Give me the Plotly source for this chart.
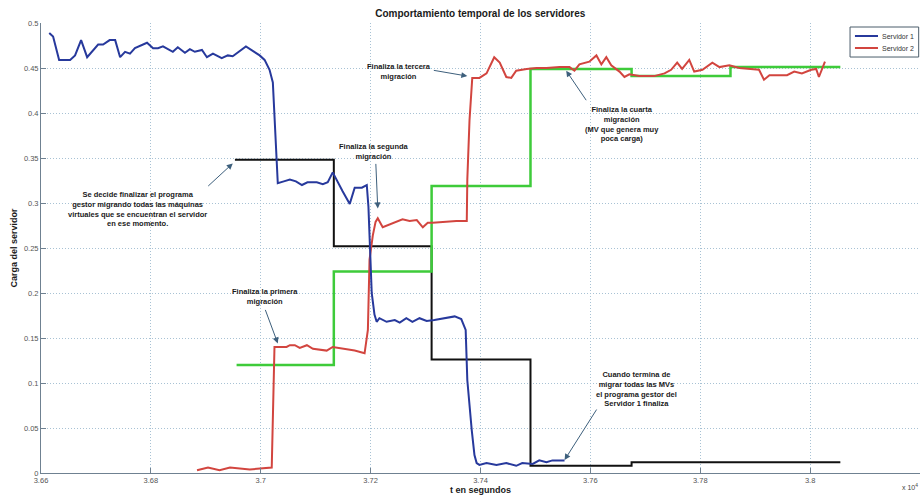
import plotly.graph_objects as go

# Servidor 1 load over time
t_serv1 = [3.6615, 3.6622, 3.6633, 3.6653, 3.6662, 3.6673, 3.6684, 3.6704, 3.6713, 3.6725,
           3.6735, 3.6744, 3.6753, 3.6762, 3.6771, 3.6793, 3.6804, 3.6813, 3.6822, 3.6840,
           3.6849, 3.6862, 3.6871, 3.6880, 3.6893, 3.6902, 3.6913, 3.6929, 3.6940, 3.6949,
           3.6973, 3.6989, 3.6998, 3.7007, 3.7016, 3.7022, 3.7029, 3.7031, 3.7042, 3.7053,
           3.7064, 3.7075, 3.7085, 3.7102, 3.7113, 3.7122, 3.7131, 3.7140, 3.7149, 3.7162,
           3.7171, 3.7184, 3.7193, 3.7196, 3.7198, 3.7200, 3.7202, 3.7207, 3.7211, 3.7216,
           3.7229, 3.7244, 3.7253, 3.7265, 3.7276, 3.7289, 3.7302, 3.7316, 3.7335, 3.7353,
           3.7365, 3.7373, 3.7376, 3.7380, 3.7384, 3.7389, 3.7393, 3.7398, 3.7411, 3.7429,
           3.7447, 3.7465, 3.7476, 3.7495, 3.7507, 3.7520, 3.7531, 3.7553]
carga_serv1 = [0.489, 0.485, 0.459, 0.459, 0.464, 0.481, 0.462, 0.476, 0.476, 0.481,
               0.481, 0.462, 0.468, 0.466, 0.472, 0.478, 0.472, 0.472, 0.474, 0.468,
               0.473, 0.467, 0.471, 0.468, 0.470, 0.462, 0.466, 0.461, 0.464, 0.463,
               0.474, 0.467, 0.464, 0.459, 0.448, 0.434, 0.348, 0.322, 0.324, 0.326,
               0.324, 0.320, 0.323, 0.323, 0.321, 0.323, 0.334, 0.323, 0.313, 0.299,
               0.317, 0.317, 0.320, 0.296, 0.259, 0.226, 0.200, 0.176, 0.168, 0.172,
               0.168, 0.170, 0.167, 0.172, 0.168, 0.172, 0.169, 0.170, 0.172, 0.174,
               0.171, 0.159, 0.103, 0.070, 0.048, 0.020, 0.011, 0.009, 0.011, 0.009,
               0.011, 0.008, 0.011, 0.010, 0.014, 0.012, 0.014, 0.014]

# Servidor 2 load over time
t_serv2 = [3.6884, 3.6904, 3.6925, 3.6944, 3.6980, 3.7020, 3.7025, 3.7035, 3.7047, 3.7053,
           3.7062, 3.7071, 3.7084, 3.7095, 3.7107, 3.7120, 3.7131, 3.7153, 3.7171, 3.7189,
           3.7195, 3.7198, 3.7204, 3.7209, 3.7213, 3.7222, 3.7235, 3.7247, 3.7258, 3.7271,
           3.7284, 3.7295, 3.7304, 3.7313, 3.7335, 3.7356, 3.7375, 3.7376, 3.7380, 3.7385,
           3.7398, 3.7411, 3.7425, 3.7435, 3.7447, 3.7456, 3.7465, 3.7484, 3.7502, 3.7520,
           3.7544, 3.7562, 3.7571, 3.7580, 3.7598, 3.7611, 3.7620, 3.7629, 3.7638, 3.7653,
           3.7662, 3.7671, 3.7689, 3.7716, 3.7735, 3.7747, 3.7758, 3.7767, 3.7780, 3.7789,
           3.7804, 3.7816, 3.7822, 3.7835, 3.7853, 3.7871, 3.7889, 3.7907, 3.7916, 3.7926,
           3.7944, 3.7958, 3.7971, 3.7985, 3.8002, 3.8011, 3.8016, 3.8024, 3.8027]
carga_serv2 = [0.003, 0.006, 0.003, 0.006, 0.004, 0.006, 0.140, 0.140, 0.140, 0.142,
               0.142, 0.139, 0.142, 0.138, 0.137, 0.136, 0.140, 0.138, 0.136, 0.133,
               0.159, 0.237, 0.264, 0.279, 0.283, 0.273, 0.276, 0.279, 0.282, 0.280,
               0.281, 0.273, 0.278, 0.278, 0.279, 0.280, 0.280, 0.326, 0.392, 0.439,
               0.439, 0.444, 0.462, 0.456, 0.440, 0.439, 0.447, 0.449, 0.450, 0.450,
               0.451, 0.451, 0.447, 0.454, 0.457, 0.464, 0.454, 0.462, 0.453, 0.446,
               0.440, 0.443, 0.441, 0.441, 0.444, 0.448, 0.456, 0.449, 0.459, 0.446,
               0.448, 0.453, 0.456, 0.451, 0.453, 0.450, 0.449, 0.448, 0.437, 0.442,
               0.442, 0.442, 0.446, 0.444, 0.448, 0.449, 0.440, 0.453, 0.457]

# Step profiles: migrated load arriving (green) and manager load remaining (black)
t_pasos_verde = [3.6956, 3.7133, 3.7311, 3.7491, 3.7675, 3.7855, 3.8055]
carga_verde = [0.120, 0.224, 0.319, 0.449, 0.441, 0.451, 0.451]
t_pasos_negro = [3.6953, 3.7133, 3.7311, 3.7491, 3.7675, 3.8055]
carga_negro = [0.348, 0.252, 0.126, 0.008, 0.012, 0.012]

x_ticks = [3.66, 3.68, 3.70, 3.72, 3.74, 3.76, 3.78, 3.80, 3.82]
x_ticklabels = ["3.66", "3.68", "3.7", "3.72", "3.74", "3.76", "3.78", "3.8", "3.82"]
y_ticks = [0, 0.05, 0.1, 0.15, 0.2, 0.25, 0.3, 0.35, 0.4, 0.45, 0.5]
y_ticklabels = ["0", "0.05", "0.1", "0.15", "0.2", "0.25", "0.3", "0.35", "0.4", "0.45", "0.5"]

series_names = ["Servidor 1", "Servidor 2"]
BLUE = "#27399c"
RED = "#d2453f"
AXIS = "#6f8191"
GRID = "#a8c2d4"
TXT = "#1a1a1a"
FONT = "Liberation Sans"

fig = go.Figure()
fig.add_trace(go.Scatter(x=t_pasos_negro, y=carga_negro, mode="lines", line_shape="hv",
                         line=dict(color="#111111", width=2), showlegend=False))
fig.add_trace(go.Scatter(x=t_pasos_verde, y=carga_verde, mode="lines", line_shape="hv",
                         line=dict(color="#3ecb3a", width=2.5), showlegend=False))
fig.add_trace(go.Scatter(x=t_serv2, y=carga_serv2, mode="lines", name=series_names[1],
                         line=dict(color=RED, width=2), showlegend=False))
fig.add_trace(go.Scatter(x=t_serv1, y=carga_serv1, mode="lines", name=series_names[0],
                         line=dict(color=BLUE, width=2), showlegend=False))

def nota(x, y, texto):
    fig.add_annotation(x=x, y=y, xref="x", yref="y", text=texto, showarrow=False,
                       font=dict(family=FONT, size=7.5, color=TXT), align="center")

def flecha(x, y, ax, ay):
    fig.add_annotation(x=x, y=y, xref="x", yref="y", text="", showarrow=True,
                       ax=ax, ay=ay, arrowhead=2, arrowsize=1.2, arrowwidth=1,
                       arrowcolor="#3d5f7c")

nota(3.6775, 0.293, "<b>Se decide finalizar el programa<br>gestor migrando todas las máquinas<br>"
                    "virtuales que se encuentran el servidor<br>en ese momento.</b>")
flecha(3.6949, 0.344, -26, 24)
nota(3.7207, 0.357, "<b>Finaliza la segunda<br>migración</b>")
flecha(3.7213, 0.294, -2, -46)
nota(3.7007, 0.196, "<b>Finaliza la primera<br>migración</b>")
flecha(3.7031, 0.144, -13, -35)
nota(3.7251, 0.446, "<b>Finaliza la tercera<br>migración</b>")
flecha(3.7376, 0.441, -35, -6)
nota(3.7658, 0.388, "<b>Finaliza la cuarta<br>migración<br>(MV que genera muy<br>poca carga)</b>")
flecha(3.7556, 0.447, 21, 31)
nota(3.7684, 0.093, "<b>Cuando termina de<br>migrar todas las MVs<br>el programa gestor del<br>Servidor 1 finaliza</b>")
flecha(3.7553, 0.0144, 33, -52)

# exponent of the time axis
fig.add_annotation(x=1.0, y=-0.045, xref="paper", yref="paper", xanchor="right",
                   text="x 10<sup>4</sup>", showarrow=False,
                   font=dict(family=FONT, size=7, color="#444"))

# compact legend box in the upper right corner
fig.add_shape(type="rect", xref="paper", yref="paper", x0=0.9204, x1=0.9985,
              y0=0.9244, y1=0.9911, line=dict(color="#4b5d6b", width=1), fillcolor="white",
              layer="above")
for nombre, color, yy in [(series_names[0], BLUE, 0.9711), (series_names[1], RED, 0.9444)]:
    fig.add_shape(type="line", xref="paper", yref="paper", x0=0.9260, x1=0.9522,
                  y0=yy, y1=yy, line=dict(color=color, width=2), layer="above")
    fig.add_annotation(x=0.9545, y=yy, xref="paper", yref="paper", xanchor="left",
                       yanchor="middle", text=nombre, showarrow=False,
                       font=dict(family=FONT, size=7, color="#333"))

fig.update_layout(
    width=920, height=499,
    margin=dict(l=41, r=0, t=23, b=26),
    paper_bgcolor="white", plot_bgcolor="white",
    showlegend=False,
    title=dict(text="<b>Comportamiento temporal de los servidores</b>", x=0.522, xanchor="center",
               y=1 - 13 / 499, yanchor="middle", font=dict(family=FONT, size=10, color=TXT)),
    xaxis=dict(range=[3.66, 3.82], tickvals=x_ticks, ticktext=x_ticklabels,
               showgrid=True, gridcolor=GRID, griddash="1px,2px", gridwidth=1,
               showline=True, linecolor=AXIS, linewidth=1, ticks="inside", ticklen=5,
               tickcolor=AXIS, zeroline=False, tickfont=dict(family=FONT, size=7.5, color="#555"),
               title=dict(text="<b>t en segundos</b>", font=dict(family=FONT, size=9, color=TXT),
                          standoff=2)),
    yaxis=dict(range=[0, 0.5], tickvals=y_ticks, ticktext=y_ticklabels,
               showgrid=True, gridcolor=GRID, griddash="1px,2px", gridwidth=1,
               showline=True, linecolor=AXIS, linewidth=1, ticks="inside", ticklen=5,
               tickcolor=AXIS, zeroline=False, tickfont=dict(family=FONT, size=7.5, color="#555"),
               title=dict(text="<b>Carga del servidor</b>", font=dict(family=FONT, size=9, color=TXT),
                          standoff=4)),
)

fig.write_html("out.html")
